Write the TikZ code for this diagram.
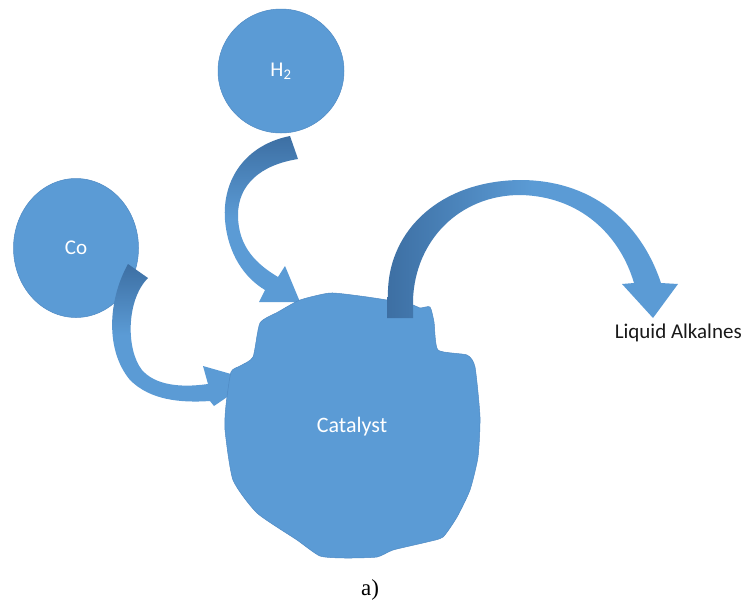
\documentclass[tikz,border=0pt]{standalone}
\usepackage{fontspec}
\setmainfont{Carlito}
\newfontfamily\capfont{Liberation Serif}
\usetikzlibrary{shapes.geometric}
\definecolor{cfill}{HTML}{5B9BD5}
\definecolor{cedge}{HTML}{4F8AC4}
\definecolor{cdark}{HTML}{3D6FA3}
\begin{document}
\begin{tikzpicture}[x=1pt,y=-1pt,
  bubble/.style={ellipse, fill=cfill, draw=cedge, line width=0.5pt, inner sep=0pt,
     text=white, font=\fontsize{21}{24}\selectfont},
  wlabel/.style={text=white, font=\fontsize{22}{26}\selectfont, inner sep=0pt},
  ]
\fill[white] (0,0) rectangle (744,611);
\useasboundingbox (0,0) rectangle (744,611);

% source circles
\node[bubble, minimum width=126pt, minimum height=124pt] (h2) at (281,71) {H\textsubscript{2}};
\node[bubble, minimum width=125pt, minimum height=139pt] (co) at (76,248) {Co};

% H2 curved arrow
\shade[top color=cdark, bottom color=cfill, middle color=cfill]
  (290,136) .. controls (245,145) and (222,180) .. (225,220)
  .. controls (228,255) and (245,278) .. (265,290)
  -- (259,302) -- (300,302) -- (285,266) -- (278,277)
  .. controls (258,265) and (238,248) .. (238,215)
  .. controls (238,185) and (260,165) .. (298,159) -- cycle;

% Co curved arrow
\shade[top color=cdark, bottom color=cfill, middle color=cfill]
  (128,264) .. controls (108,300) and (105,350) .. (130,380)
  .. controls (150,400) and (180,403) .. (210,401)
  -- (214,406) -- (252,380) -- (203,366) -- (208,384)
  .. controls (180,388) and (155,385) .. (142,370)
  .. controls (126,350) and (126,300) .. (148,278) -- cycle;

% catalyst blob
\fill[cfill, draw=cedge, line width=0.5pt] plot[smooth cycle, tension=0.35] coordinates {
  (330,293) (360,296) (387,300) (413,305) (420,308) (430,307) (434,322) (438,350)
  (467,355) (475,367) (480,417) (478,457) (470,490) (457,517) (443,537) (427,542)
  (393,550) (377,557) (345,558) (320,556) (297,540) (257,513) (233,480) (225,430)
  (226,405) (231,372) (240,366) (253,357) (260,323) (278,312) (300,300)};
\node[wlabel] (cat) at (352,427) {Catalyst};

% product arrow
\shade[left color=cdark, right color=cfill, middle color=cfill]
  (387,318) -- (388,290) .. controls (390,230) and (440,181) .. (520,180)
  .. controls (590,180) and (640,220) .. (661,283)
  -- (678,284) -- (653,318) -- (622,284) -- (634,283)
  .. controls (620,235) and (580,196) .. (520,195)
  .. controls (460,195) and (415,240) .. (413,300) -- (413,318) -- cycle;

\node[anchor=east, inner sep=0pt, text=black!90, font=\fontsize{21}{24}\selectfont] (liq) at (742,333) {Liquid Alkalnes};
\node[inner sep=0pt, font=\capfont\fontsize{23}{26}\selectfont] (lbl) at (370,590) {a)};
\end{tikzpicture}
\end{document}
